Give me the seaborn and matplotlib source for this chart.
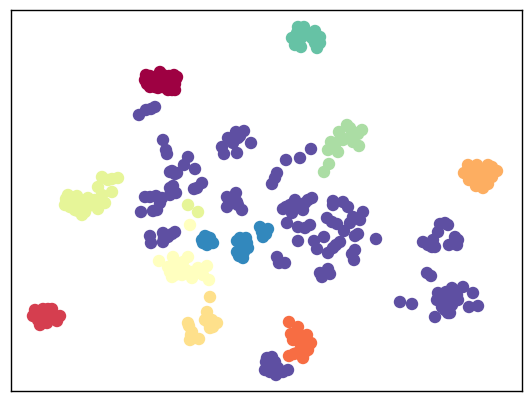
import matplotlib
matplotlib.use("Agg")
import matplotlib.pyplot as plt
import pandas as pd
import seaborn as sns

crimson = [(145,80),(146,75),(147,84),(150,87),(146,79),(152,80),(156,77),(160,72),(159,83),(163,75),(166,77),(169,76),(172,80),(177,77),(175,84),(176,79),(168,90),(172,90),(175,90),(163,87),(170,84),(155,87),(165,80),(174,75),(150,76),(158,88)]
red = [(33,316),(35,310),(38,320),(43,309),(48,309),(52,309),(40,325),(47,323),(43,317),(50,317),(57,321),(60,316),(37,315),(46,313),(52,314),(42,322)]
orange = [(289,322),(298,327),(291,334),(293,340),(300,335),(307,335),(311,343),(308,350),(303,358),(289,356),(297,353),(300,343),(307,343),(305,352),(309,345),(295,338),(294,354),(302,348),(296,332)]
amber = [(468,165),(477,165),(488,165),(492,167),(497,171),(464,173),(469,180),(476,186),(483,188),(488,184),(492,177),(482,177),(485,170),(475,177),(480,172),(470,172),(478,182),(486,178)]
sand = [(210,297),(207,312),(205,320),(213,327),(217,323),(208,322),(210,328),(212,320),(188,323),(189,326),(192,332),(190,340),(199,339),(194,338),(191,335)]
cream = [(159,261),(173,257),(188,257),(168,267),(172,277),(177,263),(183,262),(182,275),(192,278),(198,268),(207,266),(203,275),(209,280),(177,270),(170,272),(192,272),(180,268),(175,275),(186,270),(200,272),(190,225)]
lime = [(102,177),(112,179),(118,178),(98,187),(112,192),(102,195),(68,195),(77,196),(88,198),(65,205),(82,215),(98,209),(105,203),(75,210),(87,207),(72,202),(95,200),(80,203),(66,199),(78,211),(85,212),(92,205),(70,207),(100,201),(108,180),(188,205),(198,212)]
mint = [(347,125),(362,130),(353,132),(339,132),(341,137),(353,142),(359,146),(331,142),(328,150),(338,152),(335,145),(329,164),(324,172),(350,128),(358,134),(350,138),(343,140),(333,148)]
teal = [(298,27),(304,27),(292,38),(297,33),(301,47),(295,45),(302,37),(315,31),(320,37),(312,38),(317,48),(315,43),(320,43),(299,42),(296,38),(316,36),(301,31),(311,34)]
blue = [(202,240),(205,236),(207,237),(210,238),(213,243),(207,245),(203,243),(209,241),(246,238),(237,241),(237,252),(243,258),(248,248),(241,247),(244,252),(239,256),(247,243),(240,238),(260,227),(268,229),(263,237),(262,232),(266,234)]
violet = [(139,115),(146,110),(151,109),(155,107),(163,140),(166,150),(167,154),(188,157),(184,165),(195,169),(170,172),(175,174),(172,171),(177,173),
(170,188),(173,186),(172,192),(176,193),(170,195),(194,189),(202,183),(197,188),(236,132),(244,131),(228,138),(222,147),(224,154),(237,153),(251,143),(233,143),(238,138),(240,136),
(145,197),(150,197),(156,196),(162,198),(141,212),(153,211),(157,210),(160,203),(227,197),(236,193),(227,207),(233,203),(242,210),(237,202),(238,205),(229,200),(233,198),
(150,236),(151,243),(163,233),(163,242),(168,237),(175,232),(172,234),(164,238),
(311,149),(300,158),(286,160),(277,173),(275,178),(272,184),(295,200),(308,200),(312,198),(333,201),(343,202),
(286,207),(295,203),(283,209),(292,213),(303,210),(305,203),(287,223),(298,227),(305,228),(310,225),(298,241),(314,241),(317,249),(324,237),(328,253),(333,248),(340,242),(333,205),(348,207),(327,218),(332,222),(337,224),(350,223),(353,217),(360,220),(363,212),(344,231),(358,234),(355,236),(376,239),(355,250),(352,254),(354,260),(290,205),(300,205),
(277,257),(279,263),(285,263),(320,273),(322,277),(328,269),(330,274),(336,245),
(445,223),(440,224),(438,232),(448,225),(423,242),(432,247),(435,247),(433,240),(428,245),(455,237),(458,240),(457,245),(449,245),(427,273),(431,276),(400,302),(412,304),
(448,302),(438,293),(437,300),(442,307),(452,288),(463,287),(458,300),(450,313),(435,317),(445,310),(448,300),(453,295),(443,298),(473,293),(469,307),(478,306),(456,291),(441,302),(446,292),(452,305),(457,295),(440,297),(448,313),(444,304),
(267,358),(268,365),(270,372),(275,362),(278,368),(283,372),(288,370),(276,375),(265,370),(272,357),(272,366),(266,362),(280,372)]

clusters = {"a": crimson, "b": red, "c": orange, "d": amber, "e": sand, "f": cream,
            "g": lime, "h": mint, "i": teal, "j": blue, "k": violet}
colors = ["#9e0142", "#d53e4f", "#f76d43", "#fdae61", "#fee08b", "#ffffbf",
          "#e6f598", "#abdda4", "#66c2a5", "#3288bd", "#5e4fa2"]

rows = [(x, y, name) for name, pts in clusters.items() for x, y in pts]
df = pd.DataFrame(rows, columns=["x", "y", "cluster"])

sns.set_style("white")
fig = plt.figure(figsize=(5.31, 4.01), dpi=100)
ax = fig.add_axes([10.5/531, 1-391/401, 511/531, 381/401])
sns.scatterplot(data=df, x="x", y="y", hue="cluster", palette=colors, s=80,
                linewidth=0, legend=False, ax=ax, clip_on=False)
ax.set_xlim(10.5, 521.5)
ax.set_ylim(391, 10)
ax.set_xticks([])
ax.set_yticks([])
ax.set_xlabel("")
ax.set_ylabel("")
for s in ax.spines.values():
    s.set_visible(True)
    s.set_color("black")
    s.set_linewidth(1.0)
fig.savefig("out.png", dpi=100)
